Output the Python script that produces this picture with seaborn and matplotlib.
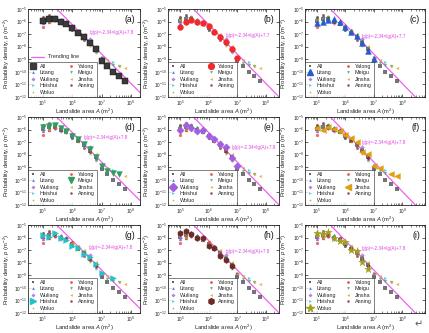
import numpy as np
import pandas as pd
import matplotlib
matplotlib.use("Agg")
import matplotlib.pyplot as plt
import seaborn as sns
from matplotlib.lines import Line2D
from matplotlib.ticker import FixedLocator, NullFormatter, LogLocator

sns.set_theme(style="ticks")
plt.rcParams["font.family"] = ["Liberation Sans", "DejaVu Sans"]
plt.rcParams["mathtext.fontset"] = "custom"
plt.rcParams["mathtext.rm"] = "Liberation Sans"
plt.rcParams["mathtext.it"] = "Liberation Sans:italic"

# log10 of landslide area (m^2) bin centres and log10 of probability density (m^-2)
all_lgA = [5.0, 5.2, 5.4, 5.6, 5.8, 6.0, 6.2, 6.4, 6.6, 6.8, 7.0, 7.2, 7.4, 7.6, 7.8]
all_lgp = [-5.95, -5.82, -5.82, -6.02, -6.2, -6.55, -6.9, -7.25, -7.7, -8.2, -9.1, -9.5, -10.0, -10.3, -10.7]

litang_lgA = [5.0, 5.2, 5.4, 5.6, 5.8, 6.0, 6.2, 6.4, 6.6, 6.8, 7.0]
litang_lgp = [-6.12, -6.0, -5.88, -5.8, -6.06, -6.41, -6.81, -7.13, -7.74, -8.32, -8.99]

wuliang_lgA = [5.0, 5.2, 5.4, 5.6, 5.8, 6.0, 6.2, 6.4, 6.6, 6.8, 7.0]
wuliang_lgp = [-6.0, -5.6, -5.86, -6.13, -6.0, -6.54, -6.75, -7.16, -7.35, -8.23, -8.9]

heishui_lgA = [5.0, 5.2, 5.4, 5.6, 5.8, 6.0, 6.2, 6.4, 6.6, 6.8, 7.0, 7.4]
heishui_lgp = [-5.8, -5.93, -5.66, -6.01, -6.2, -6.65, -6.81, -7.34, -7.58, -8.14, -8.8, -9.18]

woluo_lgA = [5.0, 5.2, 5.4, 5.6, 5.8, 6.0, 6.2, 6.4, 6.6, 6.8]
woluo_lgp = [-5.66, -5.72, -5.59, -6.01, -6.28, -6.38, -7.0, -7.07, -7.98, -8.51]

yalong_lgA = [5.0, 5.2, 5.4, 5.6, 5.8, 6.0, 6.2, 6.4, 6.6, 6.8, 7.0]
yalong_lgp = [-6.45, -6.0, -5.88, -6.0, -6.1, -6.38, -6.85, -7.2, -7.65, -8.2, -8.9]

meigu_lgA = [5.0, 5.2, 5.4, 5.6, 5.8, 6.0, 6.2, 6.4, 6.6, 6.8, 7.0, 7.2, 7.4, 7.6]
meigu_lgp = [-5.76, -5.68, -5.6, -5.87, -6.08, -6.49, -6.76, -7.11, -7.57, -8.2, -8.88, -9.3, -9.47, -9.55]

jinsha_lgA = [5.0, 5.2, 5.4, 5.6, 5.8, 6.0, 6.2, 6.4, 6.6, 6.8, 7.0, 7.2, 7.6, 7.8]
jinsha_lgp = [-5.86, -6.0, -5.81, -5.95, -6.13, -6.4, -6.67, -6.99, -7.75, -7.94, -8.91, -9.02, -9.5, -9.69]

anning_lgA = [5.0, 5.2, 5.4, 5.6, 5.8, 6.0, 6.2, 6.4, 6.6, 6.8]
anning_lgp = [-5.66, -5.48, -5.74, -6.01, -6.06, -6.65, -6.81, -7.45, -7.79, -8.27]

# fitted power law lg(p) = slope * lg(A) + intercept
trend_slope = -2.34
trend_intercept = 7.8

series_names = ["All", "Litang", "Wuliang", "Heishui", "Woluo", "Yalong", "Meigu", "Jinsha", "Anning"]
series_lgA = [all_lgA, litang_lgA, wuliang_lgA, heishui_lgA, woluo_lgA,
              yalong_lgA, meigu_lgA, jinsha_lgA, anning_lgA]
series_lgp = [all_lgp, litang_lgp, wuliang_lgp, heishui_lgp, woluo_lgp,
              yalong_lgp, meigu_lgp, jinsha_lgp, anning_lgp]
series_colors = ["#3a3a3a", "#1f5fcf", "#a25fe0", "#22c3c8", "#a3a01e",
                 "#f02a2a", "#2e9e62", "#e0a010", "#6e2a26"]
series_markers = ["s", "^", "D", ">", "*", "o", "v", "<", "h"]

panel_tags = ["(a)", "(b)", "(c)", "(d)", "(e)", "(f)", "(g)", "(h)", "(i)"]
panel_focus = ["All", "Yalong", "Litang", "Meigu", "Wuliang", "Jinsha", "Heishui", "Anning", "Woluo"]
panel_eq = ["lg(p)=-2.34×lg(A)+7.8", "lg(p)=-2.34×lg(A)+7.7", "lg(p)=-2.34×lg(A)+7.7",
            "lg(p)=-2.34×lg(A)+7.8", "lg(p)=-2.34×lg(A)+7.8", "lg(p)=-2.34×lg(A)+7.8",
            "lg(p)=-2.34×lg(A)+7.8", "lg(p)=-2.34×lg(A)+7.8", "lg(p)=-2.34×lg(A)+7.8"]
eq_lgA = [6.6, 6.6, 6.58, 6.38, 6.82, 6.56, 6.57, 6.6, 6.58]
eq_lgp = [-6.9, -7.07, -7.18, -6.63, -7.43, -7.0, -6.81, -7.07, -6.86]

frames = []
for name, xa, ya in zip(series_names, series_lgA, series_lgp):
    frames.append(pd.DataFrame({"series": name,
                                "area": np.power(10.0, xa),
                                "density": np.power(10.0, ya)}))
data = pd.DataFrame(pd.concat(frames, ignore_index=True))

trend_color = "#f060f0"
W, H = 429, 333
fig = plt.figure(figsize=(W / 100, H / 100), dpi=100)
fig.patch.set_facecolor("white")

# per-column axes placement (pixels) and x range (log10 units)
col_left = [28, 168, 305]
col_width = [112, 111, 120]
col_xlim = [(4.49, 8.31), (4.58, 8.46), (4.58, 8.80)]
row_top = [9, 117, 225]
ax_h = 88

ymin, ymax = 1e-12, 1e-5

for k in range(9):
    r, c = divmod(k, 3)
    ax = fig.add_axes([col_left[c] / W, 1 - (row_top[r] + ax_h) / H, col_width[c] / W, ax_h / H])
    focus = panel_focus[k]
    xmin, xmax = 10 ** col_xlim[c][0], 10 ** col_xlim[c][1]

    # trend line
    xs = np.power(10.0, np.linspace(col_xlim[c][0], col_xlim[c][1], 50))
    trend = pd.DataFrame({"area": xs, "density": np.power(10.0, trend_slope * np.log10(xs) + trend_intercept)})
    sns.lineplot(data=trend, x="area", y="density", ax=ax, color=trend_color, lw=0.9, zorder=2)

    handles = []
    for name, col, mk in zip(series_names, series_colors, series_markers):
        sub = data[data["series"] == name]
        if name == focus:
            ms = 5.6 if mk == "*" else 4.2
            if mk == "D":
                ms = 3.7
            sns.scatterplot(data=sub, x="area", y="density", ax=ax, marker=mk,
                            s=ms ** 2, color=col,
                            edgecolor="#111111" if name == "All" else col,
                            linewidth=0.3, zorder=5, legend=False)
            handles.append(Line2D([], [], marker=mk, ls="none", color=col,
                                  markersize=ms, markeredgecolor=col, label=name))
        else:
            sns.scatterplot(data=sub, x="area", y="density", ax=ax, marker=mk,
                            s=5.5, color=col, alpha=0.7, linewidth=0,
                            zorder=3, legend=False)
            handles.append(Line2D([], [], marker=mk, ls="none", color=col, alpha=0.8,
                                  markersize=2.0, markeredgewidth=0, label=name))

    ax.set_xscale("log")
    ax.set_yscale("log")
    ax.set_xlim(xmin, xmax)
    ax.set_ylim(ymin, ymax)
    ax.xaxis.set_major_locator(FixedLocator([1e5, 1e6, 1e7, 1e8]))
    ax.xaxis.set_minor_locator(LogLocator(base=10, subs=np.arange(2, 10), numticks=20))
    ax.xaxis.set_minor_formatter(NullFormatter())
    ax.yaxis.set_major_locator(FixedLocator([10.0 ** e for e in range(-12, -4)]))
    ax.yaxis.set_minor_locator(FixedLocator([]))
    ax.set_xticklabels([r"$10^{5}$", r"$10^{6}$", r"$10^{7}$", r"$10^{8}$"])
    ax.set_yticklabels([r"$10^{%d}$" % e for e in range(-12, -4)])
    ax.tick_params(which="major", direction="in", length=2.0, width=0.5,
                   labelsize=3.4, pad=1.0, top=True, right=True)
    ax.tick_params(which="minor", direction="in", length=1.1, width=0.4, top=True)
    for sp in ax.spines.values():
        sp.set_linewidth(0.6)
        sp.set_color("#222222")

    ax.set_xlabel(r"Landslide area $\mathit{A}$ (m$^{2}$)", fontsize=4.2)
    ax.xaxis.set_label_coords(0.5, -0.115)
    ax.set_ylabel(r"Probability density, $\mathit{p}$ (m$^{-2}$)", fontsize=4.2, labelpad=1.2)

    ax.text(0.96, 0.93, panel_tags[k], transform=ax.transAxes, ha="right", va="top",
            fontsize=6.2, color="#111111")
    ax.text(10 ** eq_lgA[k], 10 ** eq_lgp[k], panel_eq[k], ha="left", va="center",
            fontsize=3.3, color="#e040e0", zorder=6)

    leg = ax.legend(handles=handles, loc="lower left", ncol=2, fontsize=3.9,
                    frameon=True, fancybox=False, borderaxespad=0.0,
                    handlelength=1.2, handletextpad=0.6, columnspacing=1.6,
                    labelspacing=0.28, borderpad=0.4)
    leg.get_frame().set_edgecolor("#222222")
    leg.get_frame().set_linewidth(0.5)

    if k == 0:
        ax.add_artist(leg)
        tl = Line2D([], [], color=trend_color, lw=0.9, label="Trending line")
        ax.legend(handles=[tl], loc="lower left", bbox_to_anchor=(0.0, 0.39),
                  fontsize=3.9, frameon=False, handlelength=2.4, handletextpad=0.6,
                  borderaxespad=0.2)

fig.text(0.975, 0.012, "↵", fontsize=7, color="#555555", ha="center", va="bottom")

fig.savefig("out.png", dpi=100, facecolor="white")
